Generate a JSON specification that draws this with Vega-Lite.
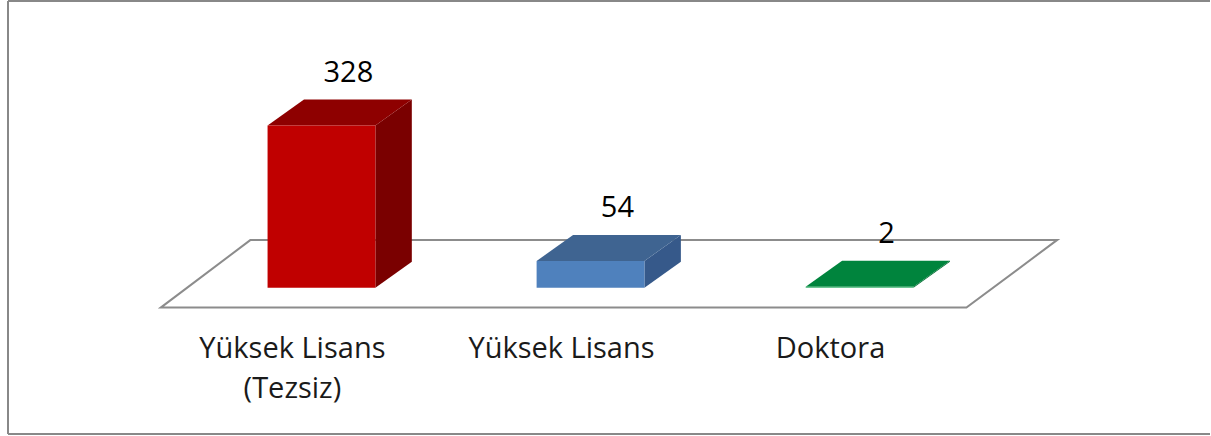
{
  "$schema": "https://vega.github.io/schema/vega-lite/v6.json",
  "autosize": {"type": "fit", "contains": "padding"},
  "width": 1211,
  "height": 436,
  "padding": {"left": 7, "top": 0, "right": 0, "bottom": 1},
  "background": "white",
  "config": {
    "view": {"stroke": null},
    "text": {"font": "Open Sans", "fontSize": 29, "color": "#000000"}
  },
  "data": {
    "values": [
      {"category": "Yüksek Lisans (Tezsiz)", "value": 328},
      {"category": "Yüksek Lisans", "value": 54},
      {"category": "Doktora", "value": 2}
    ]
  },
  "transform": [
    {"window": [{"op": "row_number", "as": "i"}]}
  ],
  "resolve": {"scale": {"color": "independent"}},
  "layer": [
    {
      "mark": {"type": "rule", "color": "#888888", "strokeWidth": 2},
      "encoding": {
        "x": {"datum": -0.16512, "type": "quantitative", "scale": {"domain": [-0.16512, 4.30241], "nice": false, "zero": false}, "axis": null}
      }
    },
    {
      "mark": {"type": "rule", "color": "#888888", "strokeWidth": 2},
      "encoding": {
        "y": {"datum": 579.48, "type": "quantitative", "scale": {"domain": [-295.77, 579.48], "nice": false, "zero": false}, "axis": null}
      }
    },
    {
      "mark": {"type": "rule", "color": "#888888", "strokeWidth": 2},
      "encoding": {
        "y": {"datum": -295.77, "type": "quantitative", "scale": {"domain": [-295.77, 579.48], "nice": false, "zero": false}, "axis": null}
      }
    },
    {
      "transform": [
        {"aggregate": [{"op": "min", "field": "i", "as": "imin"}, {"op": "max", "field": "i", "as": "imax"}]},
        {"calculate": "0", "as": "front"},
        {"calculate": "1", "as": "back"},
        {"fold": ["front", "back"], "as": ["edge", "t"]},
        {"calculate": "-40.24 + datum.t * 136.82", "as": "fy"},
        {"calculate": "datum.imin - 0.5974 + datum.t * 0.3339", "as": "fx"},
        {"calculate": "datum.imax + 0.3971 + datum.t * 0.3376", "as": "fx2"}
      ],
      "mark": {"type": "area", "orient": "horizontal", "fill": "#ffffff", "stroke": "#8c8c8c", "strokeWidth": 2},
      "encoding": {
        "y": {"field": "fy", "type": "quantitative", "scale": {"domain": [-295.77, 579.48], "nice": false, "zero": false}, "axis": null},
        "x": {"field": "fx", "type": "quantitative", "scale": {"domain": [-0.16512, 4.30241], "nice": false, "zero": false}, "axis": null},
        "x2": {"field": "fx2"}
      }
    },
    {
      "transform": [
        {"calculate": "0", "as": "near"},
        {"calculate": "1", "as": "far"},
        {"fold": ["near", "far"], "as": ["edge", "t"]},
        {"calculate": "datum.i + 0.2004 + datum.t * 0.1354", "as": "sx"},
        {"calculate": "datum.t * 52.3", "as": "sy"},
        {"calculate": "datum.value + datum.t * 52.3", "as": "sy2"}
      ],
      "mark": {"type": "area", "orient": "vertical"},
      "encoding": {
        "x": {"field": "sx", "type": "quantitative", "scale": {"domain": [-0.16512, 4.30241], "nice": false, "zero": false}, "axis": null},
        "y": {"field": "sy", "type": "quantitative", "scale": {"domain": [-295.77, 579.48], "nice": false, "zero": false}, "axis": null},
        "y2": {"field": "sy2"},
        "detail": {"field": "category"},
        "color": {"field": "category", "type": "nominal", "legend": null,
          "scale": {"domain": ["Yüksek Lisans (Tezsiz)", "Yüksek Lisans", "Doktora"], "range": ["#7a0000", "#36598a", "#006b30"]}}
      }
    },
    {
      "transform": [
        {"calculate": "0", "as": "near"},
        {"calculate": "1", "as": "far"},
        {"fold": ["near", "far"], "as": ["edge", "t"]},
        {"calculate": "datum.value + datum.t * 52.3", "as": "ty"},
        {"calculate": "datum.i - 0.2004 + datum.t * 0.1354", "as": "tx"},
        {"calculate": "datum.i + 0.2004 + datum.t * 0.1354", "as": "tx2"}
      ],
      "mark": {"type": "area", "orient": "horizontal"},
      "encoding": {
        "y": {"field": "ty", "type": "quantitative", "scale": {"domain": [-295.77, 579.48], "nice": false, "zero": false}, "axis": null},
        "x": {"field": "tx", "type": "quantitative", "scale": {"domain": [-0.16512, 4.30241], "nice": false, "zero": false}, "axis": null},
        "x2": {"field": "tx2"},
        "detail": {"field": "category"},
        "color": {"field": "category", "type": "nominal", "legend": null,
          "scale": {"domain": ["Yüksek Lisans (Tezsiz)", "Yüksek Lisans", "Doktora"], "range": ["#8e0000", "#3f6491", "#00843d"]}}
      }
    },
    {
      "transform": [
        {"calculate": "datum.i - 0.2004", "as": "fx"},
        {"calculate": "datum.i + 0.2004", "as": "fx2"}
      ],
      "mark": {"type": "rect"},
      "encoding": {
        "x": {"field": "fx", "type": "quantitative", "scale": {"domain": [-0.16512, 4.30241], "nice": false, "zero": false}, "axis": null},
        "x2": {"field": "fx2"},
        "y": {"field": "value", "type": "quantitative", "scale": {"domain": [-295.77, 579.48], "nice": false, "zero": false}, "axis": null},
        "y2": {"datum": 0},
        "color": {"field": "category", "type": "nominal", "legend": null,
          "scale": {"domain": ["Yüksek Lisans (Tezsiz)", "Yüksek Lisans", "Doktora"], "range": ["#c00000", "#4f81bd", "#3cb371"]}}
      }
    },
    {
      "transform": [
        {"calculate": "datum.i + 0.1", "as": "lx"},
        {"calculate": "datum.value + 52.3", "as": "ly"}
      ],
      "mark": {"type": "text", "baseline": "middle", "align": "center", "dy": -27},
      "encoding": {
        "x": {"field": "lx", "type": "quantitative", "scale": {"domain": [-0.16512, 4.30241], "nice": false, "zero": false}, "axis": null},
        "y": {"field": "ly", "type": "quantitative", "scale": {"domain": [-295.77, 579.48], "nice": false, "zero": false}, "axis": null},
        "text": {"field": "value", "type": "quantitative"}
      }
    },
    {
      "transform": [
        {"calculate": "datum.i - 0.108", "as": "cx"},
        {"calculate": "replace(datum.category, ' (', '\\n(')", "as": "label"}
      ],
      "mark": {"type": "text", "baseline": "alphabetic", "align": "center", "lineBreak": "\n", "lineHeight": 40, "color": "#1a1a1a"},
      "encoding": {
        "x": {"field": "cx", "type": "quantitative", "scale": {"domain": [-0.16512, 4.30241], "nice": false, "zero": false}, "axis": null},
        "y": {"datum": -142.86, "type": "quantitative", "scale": {"domain": [-295.77, 579.48], "nice": false, "zero": false}, "axis": null},
        "text": {"field": "label", "type": "nominal"}
      }
    }
  ]
}
